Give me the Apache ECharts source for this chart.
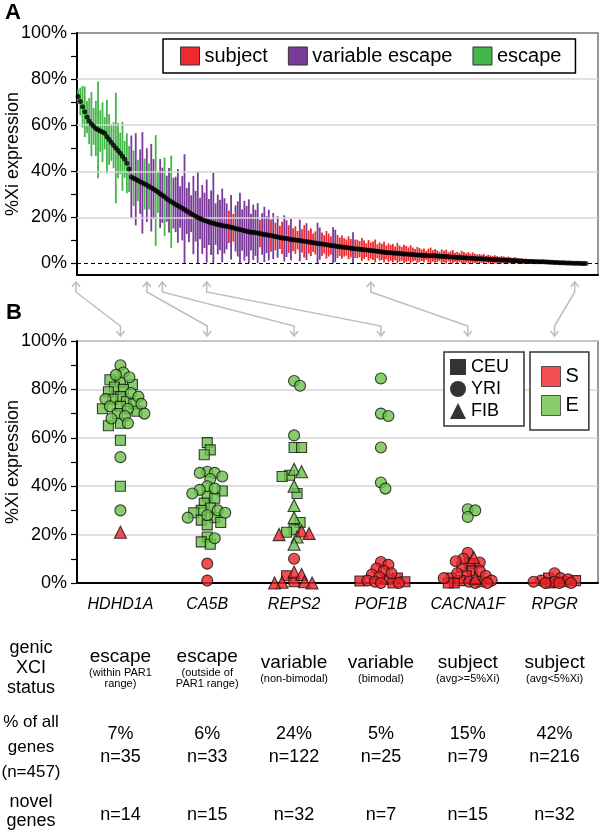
<!DOCTYPE html>
<html>
<head>
<meta charset="utf-8">
<script src="https://cdn.jsdelivr.net/npm/echarts@6/dist/echarts.min.js"></script>
<style>
  html, body { margin: 0; padding: 0; background: #fff; }
  #main { width: 600px; height: 840px; }
</style>
</head>
<body>
<div id="main"></div>
<script>
// ---- panel A: genes ranked by mean %Xi expression (every 2nd gene) ----
const geneMean = [
  72.5, 70.3, 68.0, 65.8, 63.5, 61.8, 60.5, 59.5, 58.6, 58.0,
  57.5, 57.0, 56.5, 55.0, 53.8, 52.5, 51.3, 50.1, 49.0, 47.8,
  46.5, 45.2, 43.5, 41.0, 37.5, 37.0, 36.5, 36.0, 35.5, 35.0,
  34.5, 34.0, 33.4, 32.9, 32.3, 31.7, 31.0, 30.3, 29.6, 28.9,
  28.1, 27.4, 26.8, 26.2, 25.6, 25.0, 24.5, 24.0, 23.4, 22.8,
  22.2, 21.6, 21.0, 20.5, 20.0, 19.5, 19.1, 18.7, 18.4, 18.0,
  17.7, 17.4, 17.1, 16.9, 16.7, 16.5, 16.3, 16.1, 15.9, 15.7,
  15.5, 15.2, 15.0, 14.7, 14.5, 14.2, 14.0, 13.8, 13.6, 13.5,
  13.3, 13.2, 13.0, 12.8, 12.6, 12.5, 12.3, 12.1, 11.9, 11.7,
  11.5, 11.3, 11.1, 10.9, 10.8, 10.6, 10.4, 10.3, 10.2, 10.1,
  10.0, 9.8, 9.6, 9.5, 9.3, 9.2, 9.0, 8.9, 8.7, 8.6,
  8.4, 8.3, 8.1, 8.0, 7.8, 7.7, 7.6, 7.4, 7.3, 7.1,
  7.0, 6.9, 6.8, 6.6, 6.5, 6.4, 6.3, 6.2, 6.1, 6.0,
  5.8, 5.7, 5.6, 5.5, 5.4, 5.3, 5.2, 5.0, 4.9, 4.8,
  4.7, 4.6, 4.5, 4.4, 4.4, 4.3, 4.2, 4.1, 4.1, 4.0,
  3.9, 3.9, 3.8, 3.7, 3.7, 3.6, 3.5, 3.5, 3.4, 3.4,
  3.3, 3.3, 3.2, 3.1, 3.1, 3.0, 3.0, 2.9, 2.8, 2.8,
  2.7, 2.6, 2.6, 2.5, 2.5, 2.4, 2.4, 2.3, 2.3, 2.2,
  2.1, 2.1, 2.0, 1.9, 1.9, 1.8, 1.7, 1.7, 1.6, 1.6,
  1.5, 1.5, 1.5, 1.4, 1.4, 1.3, 1.3, 1.2, 1.2, 1.1,
  1.1, 1.0, 1.0, 0.9, 0.9, 0.9, 0.8, 0.8, 0.7, 0.7,
  0.7, 0.6, 0.6, 0.5, 0.5, 0.4, 0.4, 0.3, 0.3, 0.3,
  0.2, 0.2, 0.2, 0.1, 0.1, 0.1, 0.1, 0.0, 0.0, 0.0
];
// half length of each gene's error bar (%Xi)
const geneSpread = [
  3, 6, 9, 11, 7, 10, 14, 8, 12, 21, 9, 13, 7, 16, 11, 8, 10, 24, 12, 9, 15, 8, 13, 10,
  18, 12, 20, 9, 14, 22, 11, 16, 10, 19, 13, 24, 9, 15, 12, 17, 10, 14, 20, 11,
  12, 16, 9, 14, 24, 10, 13, 8, 17, 11, 20, 9, 15, 12, 18, 10, 14, 22, 9, 13, 11, 16, 12, 10,
  7, 14, 6, 10, 12, 16, 9, 13, 11, 14, 8, 12, 10, 13,
  6, 9, 12, 8, 11, 7, 10, 6, 9, 5,
  7, 10, 8, 6, 9, 5, 6, 4, 9, 5,
  7, 8, 5, 6, 4, 5, 9, 7, 5, 4,
  6, 5, 4, 8, 7, 5, 4, 5, 4, 3.5,
  5, 4, 7, 4,
  4, 3.5, 5, 4, 3, 4.5, 3.5, 4, 5, 3, 4, 3.5, 4.5, 3, 4, 3.5, 4, 3, 4.5, 3.5, 3, 4, 3.5, 3, 4,
  3, 2.5, 3.5, 3, 2.5, 3, 2, 3, 3.5, 2.5, 3, 2.5, 2, 3, 2.5, 3, 2, 2.5, 3, 2, 2.5, 2, 3, 2.5, 2, 2.5, 2, 2.5, 2, 1.8,
  2, 1.8, 2.2, 1.5, 2, 1.8, 1.5, 2, 1.6, 1.4, 1.8, 1.5, 1.3, 1.6, 1.4, 1.2, 1.5, 1.3, 1.1, 1.2,
  1, 1.1, 0.9, 1, 0.8, 0.9, 0.8, 0.7, 0.8, 0.7, 0.6, 0.7, 0.6, 0.5, 0.6, 0.5, 0.5, 0.4, 0.5, 0.4,
  0.4, 0.3, 0.3, 0.3, 0.3, 0.2, 0.2, 0.2, 0.2
];
// g = escape, v = variable escape, s = subject
const geneClass = (
  'gggggggggggg' + 'gggggggggggg' +
  'vgvgvvgvgv' + 'vggvvgvvgv' +
  'vvvvvvvvvvvv' + 'vvvvvvvvvvvv' +
  'svsvvvvvvvvvvv' + 'svvvvsvsvs' + 'svvsvsssvs' + 'svssssvvss' + 'sssvvsssss' + 'ssvs' +
  'ssssssssss' + 'ssssssssss' + 'ssssssssss' + 'ssssssssss' + 'ssssssssss' +
  'ssssssssss' + 'ssssssssss' + 'ssssssssss' + 'ssssssssss' + 'ssssssssss' + 'ssss'
).split('');

const aTickLabels = [0, 20, 40, 60, 80, 100];
const aTicks = [0, 10, 20, 30, 40, 50, 60, 70, 80, 90, 100];
const aGridLines = [20, 40, 60, 80];

// ---- panel B: single genes, one point per sample: [%Xi, population, status] ----
const geneNames = ['HDHD1A', 'CA5B', 'REPS2', 'POF1B', 'CACNA1F', 'RPGR'];
const arrowGeneRank = [-1, 31, 38, 58, 132, 224];

const hdhd1aPts = [
  [90,'Y','E'],[87,'Y','E'],[86,'Y','E'],[85,'Y','E'],[84,'C','E'],[83,'C','E'],[82,'C','E'],
  [81,'C','E'],[80,'C','E'],[79,'C','E'],[78.5,'Y','E'],[77,'C','E'],[77,'Y','E'],[76,'C','E'],
  [76,'Y','E'],[75,'C','E'],[74,'C','E'],[74,'Y','E'],[73,'C','E'],[73,'Y','E'],[72,'C','E'],
  [72,'Y','E'],[71,'C','E'],[70,'C','E'],[70,'Y','E'],[69,'Y','E'],[68,'Y','E'],[66,'C','E'],
  [66,'Y','E'],[65,'C','E'],[59,'C','E'],[52,'Y','E'],[40,'C','E'],[30,'Y','E'],[21,'F','S']
];
const ca5bPts = [
  [58,'C','E'],[55,'C','E'],[53,'C','E'],[46,'Y','E'],[45.5,'Y','E'],[45.5,'Y','E'],[44,'Y','E'],
  [43,'Y','E'],[40,'Y','E'],[39,'Y','E'],[38.5,'Y','E'],[38,'C','E'],[37,'Y','E'],[36,'C','E'],
  [35,'C','E'],[33,'C','E'],[31,'C','E'],[30,'C','E'],[30,'Y','E'],[29,'C','E'],[29,'Y','E'],
  [28,'Y','E'],[27,'C','E'],[27,'Y','E'],[26,'C','E'],[25,'C','E'],[24,'C','E'],[19,'C','E'],
  [18.5,'Y','E'],[17,'C','E'],[16,'C','E'],[8,'Y','S'],[1,'Y','S']
];
const reps2Pts = [
  [83.5,'Y','E'],[81.5,'Y','E'],[61,'Y','E'],[56,'C','E'],[56,'C','E'],[47,'F','E'],[46,'F','E'],
  [44.5,'C','E'],[44,'C','E'],[40,'F','E'],[37,'C','E'],[32,'F','E'],[27,'F','E'],[25,'C','E'],
  [22,'C','E'],[21,'C','E'],[19,'F','E'],[16,'F','E'],[21.5,'F','S'],[20.5,'F','S'],[20,'F','S'],
  [10,'Y','S'],[4.5,'F','S'],[3.5,'F','S'],[3,'C','S'],[0.5,'C','S'],[0.5,'F','S'],[0.3,'F','S'],
  [0,'F','S'],[0,'F','S']
];
const pof1bPts = [
  [84.5,'Y','E'],[70,'Y','E'],[69,'Y','E'],[56,'Y','E'],[41.5,'Y','E'],[39,'Y','E'],
  [8.7,'Y','S'],[7.5,'Y','S'],[6,'Y','S'],[5,'Y','S'],[4,'Y','S'],[3.5,'Y','S'],[2.5,'Y','S'],
  [2,'C','S'],[1.5,'C','S'],[1,'Y','S'],[0.8,'C','S'],[0.5,'C','S'],[0.5,'Y','S'],[0,'C','S'],
  [0,'Y','S'],[0,'Y','S']
];
const cacna1fPts = [
  [30.5,'Y','E'],[30,'Y','E'],[27.3,'Y','E'],
  [12.5,'Y','S'],[10.5,'F','S'],[10,'Y','S'],[9,'Y','S'],[8.5,'Y','S'],[8,'C','S'],[6.5,'C','S'],
  [5,'C','S'],[5,'Y','S'],[4,'Y','S'],[3,'C','S'],[3,'Y','S'],[2,'F','S'],[2,'C','S'],[2,'Y','S'],
  [1,'C','S'],[1,'Y','S'],[0.5,'C','S'],[0.5,'Y','S'],[0,'C','S'],[0,'C','S'],[0,'Y','S'],[0,'Y','S']
];
const rpgrPts = [
  [4,'Y','S'],[2,'Y','S'],[2,'C','S'],[1.5,'Y','S'],[1,'Y','S'],[1,'C','S'],[0.5,'Y','S'],
  [0.5,'Y','S'],[0.5,'C','S'],[0,'Y','S'],[0,'Y','S'],[0,'Y','S'],[0,'C','S']
];
const genePoints = [hdhd1aPts, ca5bPts, reps2Pts, pof1bPts, cacna1fPts, rpgrPts];

// ---- table under panel B ----
const statusMain = ['escape', 'escape', 'variable', 'variable', 'subject', 'subject'];
const statusNote = ['(within PAR1\nrange)', '(outside of\nPAR1 range)', '(non-bimodal)', '(bimodal)', '(avg>=5%Xi)', '(avg<5%Xi)'];
const pctGenes = ['7%', '6%', '24%', '5%', '15%', '42%'];
const nGenes = ['n=35', 'n=33', 'n=122', 'n=25', 'n=79', 'n=216'];
const nNovel = ['n=14', 'n=15', 'n=32', 'n=7', 'n=15', 'n=32'];

const FONT = 'Liberation Sans, Arial, Helvetica, sans-serif';
const classColor = { g: '#45b649', v: '#7a3a9a', s: '#ee2a2e' };
const statusColor = { S: '#ec2227', E: '#6cc04a' };
const popInfo = [
  { code: 'C', name: 'CEU', symbol: 'rect', size: 10 },
  { code: 'Y', name: 'YRI', symbol: 'circle', size: 11 },
  { code: 'F', name: 'FIB', symbol: 'triangle', size: 12 }
];

function barSeries(code, name) {
  const data = [];
  geneMean.forEach((m, i) => {
    if (geneClass[i] === code) data.push([i, m, geneSpread[i]]);
  });
  return {
    name: name,
    type: 'custom',
    xAxisIndex: 0,
    yAxisIndex: 0,
    z: 3,
    itemStyle: { color: classColor[code] },
    encode: { x: 0, y: 1 },
    renderItem: function (params, api) {
      const x = api.value(0), m = api.value(1), h = api.value(2);
      const p1 = api.coord([x, Math.max(0, m - h)]);
      const p2 = api.coord([x, m + h]);
      return {
        type: 'line',
        shape: { x1: p1[0], y1: p1[1], x2: p2[0], y2: p2[1] },
        style: { stroke: api.visual('color'), lineWidth: 1.8 }
      };
    },
    data: data
  };
}

// simple beeswarm: nearest free horizontal slot, overlap allowed past maxHalf
function swarmOffsets(pts, pxPerPct, minDist, maxHalf) {
  const order = pts.map((p, i) => i).sort((a, b) => pts[b][0] - pts[a][0]);
  const placed = [];
  const dx = [];
  order.forEach(i => {
    const y = pts[i][0] * pxPerPct;
    let pick = null, bestCand = 0, bestD = -1;
    for (let k = 0; k < 400; k++) {
      const cand = (k % 2 ? 1 : -1) * Math.ceil(k / 2) * 1.5;
      if (Math.abs(cand) > maxHalf) break;
      let dmin = Infinity;
      placed.forEach(q => { dmin = Math.min(dmin, Math.hypot(q[0] - cand, q[1] - y)); });
      if (dmin >= minDist) { pick = cand; break; }
      if (dmin > bestD) { bestD = dmin; bestCand = cand; }
    }
    if (pick === null) pick = bestCand;
    placed.push([pick, y]);
    dx[i] = pick;
  });
  return dx;
}

const chart = echarts.init(document.getElementById('main'), null, { renderer: 'canvas' });

const yName = {
  name: '%Xi expression', nameLocation: 'middle', nameGap: 55, nameMoveOverlap: false,
  nameTextStyle: { fontSize: 18, color: '#000', fontFamily: FONT }
};

const option = {
  animation: false,
  backgroundColor: '#fff',
  textStyle: { fontFamily: FONT },
  grid: [
    { left: 77, right: 2, top: 33, bottom: 565, show: true, borderColor: '#777', borderWidth: 1.5, outerBoundsMode: 'none', containLabel: false },
    { left: 77, right: 2, top: 341, bottom: 257, show: true, borderColor: '#777', borderWidth: 1.5, outerBoundsMode: 'none', containLabel: false }
  ],
  xAxis: [
    {
      gridIndex: 0, type: 'value', min: -0.5, max: 234.5,
      axisLine: { onZero: false, lineStyle: { color: '#000', width: 2 } },
      axisTick: { show: false }, axisLabel: { show: false }, splitLine: { show: false }
    },
    {
      gridIndex: 1, type: 'category', data: geneNames,
      axisLine: { onZero: false, lineStyle: { color: '#000', width: 2 } },
      axisTick: { alignWithLabel: true, length: 7, lineStyle: { color: '#000', width: 1.5 } },
      axisLabel: { interval: 0, fontSize: 16, fontStyle: 'italic', color: '#000', margin: 14, fontFamily: FONT }
    }
  ],
  yAxis: [
    Object.assign({
      gridIndex: 0, type: 'value', min: -5, max: 100,
      axisLine: { show: true, onZero: false, lineStyle: { color: '#000', width: 2 } },
      axisTick: { show: true, customValues: aTicks, length: 6, lineStyle: { color: '#000', width: 1.2 } },
      axisLabel: { customValues: aTickLabels, formatter: '{value}%', fontSize: 18, color: '#000', margin: 10, fontFamily: FONT },
      splitLine: { show: false }
    }, yName),
    Object.assign({
      gridIndex: 1, type: 'value', min: 0, max: 100, interval: 20,
      axisLine: { show: true, onZero: false, lineStyle: { color: '#000', width: 2 } },
      axisTick: { show: true, length: 6, lineStyle: { color: '#000', width: 1.2 } },
      minorTick: { show: true, splitNumber: 2, length: 6, lineStyle: { color: '#000', width: 1.2 } },
      axisLabel: { formatter: '{value}%', fontSize: 18, color: '#000', margin: 10, fontFamily: FONT },
      splitLine: { show: true, lineStyle: { color: '#d6d6d6', width: 1.5 } }
    }, yName)
  ],
  legend: [
    {
      data: ['subject', 'variable escape', 'escape'],
      left: 163, top: 39, orient: 'horizontal',
      padding: [7, 14, 7, 17], itemWidth: 19, itemHeight: 18, itemGap: 20,
      icon: 'rect', itemStyle: { borderColor: '#333', borderWidth: 1 },
      textStyle: { fontSize: 20, color: '#000', fontFamily: FONT },
      borderColor: '#000', borderWidth: 1.5, backgroundColor: '#fff', selectedMode: false
    },
    {
      data: [{ name: 'CEU', icon: 'rect' }, { name: 'YRI', icon: 'circle' }, { name: 'FIB', icon: 'triangle' }],
      left: 444, top: 352, orient: 'vertical',
      padding: [6, 15, 6, 6], itemWidth: 16, itemHeight: 16, itemGap: 4,
      itemStyle: { color: '#000', borderWidth: 0 },
      textStyle: { fontSize: 18, color: '#000', fontFamily: FONT },
      borderColor: '#333', borderWidth: 1.5, backgroundColor: '#fff', selectedMode: false
    },
    {
      data: ['S', 'E'],
      left: 530, top: 352, orient: 'vertical',
      padding: [14, 10, 14, 11], itemWidth: 19, itemHeight: 20, itemGap: 8,
      icon: 'rect', itemStyle: { borderColor: '#333', borderWidth: 1 },
      textStyle: { fontSize: 20, color: '#000', fontFamily: FONT },
      borderColor: '#333', borderWidth: 1.5, backgroundColor: '#fff', selectedMode: false
    }
  ],
  series: [
    {
      name: 'guides', type: 'line', xAxisIndex: 0, yAxisIndex: 0, data: [], z: 1,
      markLine: {
        silent: true, symbol: 'none', label: { show: false },
        data: aGridLines.map(v => ({ yAxis: v, lineStyle: { color: '#d6d6d6', width: 1.5, type: 'solid' } }))
      }
    },
    barSeries('g', 'escape'),
    barSeries('v', 'variable escape'),
    barSeries('s', 'subject'),
    {
      name: 'mean', type: 'scatter', xAxisIndex: 0, yAxisIndex: 0, z: 5,
      symbol: 'circle', symbolSize: 5, itemStyle: { color: '#000' },
      data: geneMean.map((m, i) => [i, m]),
      markLine: {
        silent: true, symbol: 'none', label: { show: false },
        data: [{ yAxis: 0, lineStyle: { color: '#000', width: 1.2, type: [4, 3] } }]
      }
    },
    { name: 'S', type: 'scatter', xAxisIndex: 1, yAxisIndex: 1, data: [], itemStyle: { color: statusColor.S } },
    { name: 'E', type: 'scatter', xAxisIndex: 1, yAxisIndex: 1, data: [], itemStyle: { color: statusColor.E } }
  ]
};

chart.setOption(option);

// beeswarm offsets for panel B, in pixels
const y0 = chart.convertToPixel({ yAxisIndex: 1 }, 0);
const y100 = chart.convertToPixel({ yAxisIndex: 1 }, 100);
const pxPerPct = (y0 - y100) / 100;
const offsets = genePoints.map(pts => swarmOffsets(pts, pxPerPct, 7.5, 25));

const popSeries = popInfo.map(p => {
  const data = [];
  genePoints.forEach((pts, gi) => {
    pts.forEach((pt, k) => {
      if (pt[1] !== p.code) return;
      data.push({
        value: [gi, pt[0]],
        symbolOffset: [offsets[gi][k], 0],
        itemStyle: { color: statusColor[pt[2]] }
      });
    });
  });
  return {
    name: p.name, type: 'scatter', xAxisIndex: 1, yAxisIndex: 1, z: 4, clip: false,
    symbol: p.symbol, symbolSize: p.size,
    itemStyle: { borderColor: '#111', borderWidth: 1.1, color: '#000' },
    data: data
  };
});

// arrows between panels, table text under panel B
const graphics = [
  { type: 'text', x: 5, y: 2, style: { text: 'A', font: 'bold 22px ' + FONT, fill: '#000' } },
  { type: 'text', x: 6, y: 302, style: { text: 'B', font: 'bold 22px ' + FONT, fill: '#000' } }
];
const arrowStyle = { stroke: '#bdbdbd', lineWidth: 1.5, fill: null };
geneNames.forEach((g, gi) => {
  const xa = chart.convertToPixel({ xAxisIndex: 0 }, arrowGeneRank[gi]);
  const xb = chart.convertToPixel({ xAxisIndex: 1 }, g);
  graphics.push(
    { type: 'polyline', shape: { points: [[xa, 282], [xa, 292], [xb, 326], [xb, 336]] }, style: arrowStyle },
    { type: 'polyline', shape: { points: [[xa - 4, 287], [xa, 282], [xa + 4, 287]] }, style: arrowStyle },
    { type: 'polyline', shape: { points: [[xb - 4, 331], [xb, 336], [xb + 4, 331]] }, style: arrowStyle }
  );
  const noteLines = statusNote[gi].split('\n').map(s => '{n|' + s + '}').join('\n');
  graphics.push(
    {
      type: 'text', x: xb, y: 668,
      style: {
        text: '{m|' + statusMain[gi] + '}\n' + noteLines,
        align: 'center', verticalAlign: 'middle', fill: '#000',
        rich: {
          m: { fontSize: 19, fontFamily: FONT, lineHeight: 21, align: 'center' },
          n: { fontSize: 11, fontFamily: FONT, lineHeight: 11, align: 'center' }
        }
      }
    },
    {
      type: 'text', x: xb, y: 746,
      style: { text: pctGenes[gi] + '\n' + nGenes[gi], align: 'center', verticalAlign: 'middle',
        fontSize: 18, fontFamily: FONT, lineHeight: 23, fill: '#000' }
    },
    {
      type: 'text', x: xb, y: 815,
      style: { text: nNovel[gi], align: 'center', verticalAlign: 'middle',
        fontSize: 18, fontFamily: FONT, fill: '#000' }
    }
  );
});
graphics.push(
  { type: 'text', x: 31, y: 668, style: { text: 'genic\nXCI\nstatus', align: 'center', verticalAlign: 'middle', fontSize: 18, fontFamily: FONT, lineHeight: 20, fill: '#000' } },
  { type: 'text', x: 31, y: 747, style: { text: '% of all\ngenes\n(n=457)', align: 'center', verticalAlign: 'middle', fontSize: 17, fontFamily: FONT, lineHeight: 25, fill: '#000' } },
  { type: 'text', x: 31, y: 812, style: { text: 'novel\ngenes', align: 'center', verticalAlign: 'middle', fontSize: 18, fontFamily: FONT, lineHeight: 19, fill: '#000' } }
);

chart.setOption({
  series: option.series.concat(popSeries),
  graphic: graphics
});
</script>
</body>
</html>
